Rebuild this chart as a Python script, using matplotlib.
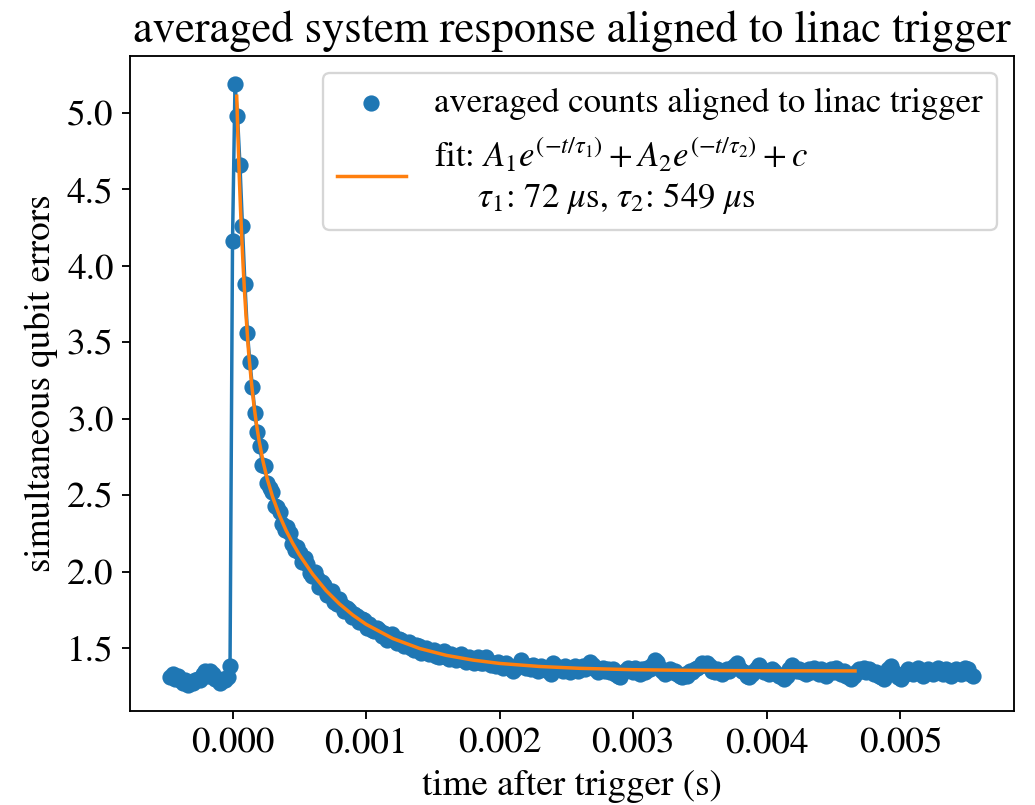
import numpy as np
import matplotlib
matplotlib.use('Agg')
import matplotlib.pyplot as plt

plt.rcParams['font.family'] = ['STIXGeneral', 'Liberation Serif', 'DejaVu Serif']
plt.rcParams['mathtext.fontset'] = 'stix'
plt.rcParams['font.size'] = 16

# sample grid of the averaged trace (s)
t_start = -4.65e-4
dt = 1.86e-5

counts = [
    1.31, 1.33, 1.30, 1.32, 1.29, 1.27, 1.29, 1.26, 1.28, 1.27,
    1.29, 1.30, 1.29, 1.33, 1.35, 1.32, 1.35, 1.33, 1.30, 1.29,
    1.27, 1.30, 1.29, 1.31, 1.38,
    4.16, 5.19, 4.98, 4.66, 4.26, 3.88, 3.56, 3.37, 3.21, 3.04,
    2.91, 2.82, 2.70, 2.69, 2.58, 2.55, 2.52, 2.43, 2.42, 2.39,
    2.31, 2.27, 2.29, 2.25, 2.18, 2.14, 2.16, 2.12, 2.06, 2.09,
    2.05, 1.99, 1.97, 2.00, 1.96, 1.90, 1.93, 1.91, 1.85, 1.86,
    1.87, 1.80, 1.79, 1.82, 1.78, 1.74, 1.76, 1.75, 1.70, 1.72,
    1.71, 1.67, 1.69, 1.68, 1.63, 1.66, 1.62, 1.61, 1.63, 1.62,
    1.58, 1.60, 1.55, 1.57, 1.59, 1.56, 1.53, 1.56, 1.55, 1.51,
    1.52, 1.54, 1.50, 1.49, 1.52, 1.51, 1.47, 1.49, 1.50, 1.46,
    1.48, 1.49, 1.45, 1.44, 1.47, 1.48, 1.44, 1.43, 1.46, 1.45,
    1.42, 1.44, 1.46, 1.42, 1.41, 1.44, 1.43, 1.40, 1.42, 1.44,
    1.40,
    1.40, 1.44, 1.41, 1.39, 1.40, 1.38, 1.41, 1.39, 1.37, 1.40,
    1.38, 1.36, 1.35, 1.37, 1.39, 1.42, 1.39, 1.37, 1.38, 1.36,
    1.39, 1.37, 1.35, 1.38, 1.36, 1.37, 1.35, 1.33, 1.40, 1.38,
    1.36, 1.37, 1.35, 1.38, 1.36, 1.34, 1.37, 1.38, 1.35, 1.36,
    1.38, 1.36, 1.39, 1.41, 1.39, 1.36, 1.34, 1.36, 1.37, 1.35,
    1.36, 1.34, 1.36, 1.33, 1.32, 1.31, 1.34, 1.35, 1.37, 1.36,
    1.34, 1.37, 1.35, 1.33, 1.36, 1.34, 1.37, 1.36, 1.39, 1.42,
    1.41, 1.37, 1.35, 1.33, 1.35, 1.36, 1.34, 1.35, 1.33, 1.32,
    1.31, 1.33, 1.32, 1.35, 1.34, 1.36, 1.37, 1.38, 1.40, 1.39,
    1.40, 1.38, 1.35, 1.34, 1.36, 1.35, 1.33, 1.34, 1.36, 1.35,
    1.37, 1.38, 1.40, 1.37, 1.35, 1.34, 1.32, 1.31, 1.33, 1.35,
    1.37, 1.39, 1.36, 1.34, 1.35, 1.33, 1.36, 1.35, 1.33, 1.32,
    1.31, 1.30, 1.32, 1.36, 1.39, 1.37, 1.35, 1.36, 1.34, 1.35,
    1.33, 1.36, 1.34, 1.37, 1.35, 1.33, 1.36, 1.34, 1.32, 1.35,
    1.36, 1.34, 1.37, 1.35, 1.33, 1.35, 1.32, 1.31, 1.30, 1.32,
    1.34, 1.36, 1.35, 1.37, 1.34, 1.36, 1.35, 1.33, 1.34, 1.32,
    1.31, 1.30, 1.34, 1.36, 1.38, 1.35, 1.33, 1.31, 1.30, 1.32,
    1.34, 1.36, 1.35, 1.33, 1.35, 1.37, 1.34, 1.32, 1.35, 1.36,
    1.34, 1.33, 1.35, 1.37, 1.35, 1.33, 1.36, 1.34, 1.32, 1.35,
    1.36, 1.34, 1.33, 1.35, 1.37, 1.36, 1.33, 1.32,
]

# double exponential fit
fit_t = [3.15e-5, 4e-5, 5e-5, 6e-5, 7e-5, 8e-5, 9e-5, 1.0e-4, 1.2e-4, 1.4e-4,
         1.6e-4, 1.8e-4, 2.0e-4, 2.3e-4, 2.6e-4, 3.0e-4, 3.5e-4, 4.0e-4, 4.5e-4,
         5.0e-4, 6.0e-4, 7.0e-4, 8.0e-4, 9.0e-4, 1.0e-3, 1.2e-3, 1.4e-3, 1.6e-3,
         1.8e-3, 2.0e-3, 2.3e-3, 2.6e-3, 3.0e-3, 3.5e-3, 4.0e-3, 4.66e-3]
fit_y = [5.11, 4.86, 4.60, 4.37, 4.17, 3.99, 3.83, 3.69, 3.44, 3.25,
         3.09, 2.96, 2.85, 2.715, 2.606, 2.489, 2.370, 2.271, 2.186,
         2.111, 1.983, 1.876, 1.789, 1.716, 1.655, 1.562, 1.497, 1.452,
         1.421, 1.399, 1.379, 1.367, 1.358, 1.353, 1.351, 1.350]

t = t_start + dt * np.arange(len(counts))

fig = plt.figure(figsize=(1035 / 167, 805 / 167), dpi=167)
ax = fig.add_axes([0.1254, 0.1168, 0.9797 - 0.1254, 0.9304 - 0.1168])

ax.plot(t, counts, color='C0')
ax.scatter(t, counts, color='C0', label='averaged counts aligned to linac trigger')
ax.plot(fit_t, fit_y, color='C1',
        label='fit: $A_1e^{(-t/\\tau_1)} + A_2e^{(-t/\\tau_2)} + c$\n'
              '     $\\tau_1$: 72 $\\mu$s, $\\tau_2$: 549 $\\mu$s')

ax.set_xlim(-7.69e-4, 5.85e-3)
ax.set_ylim(1.088, 5.373)
ax.set_xticks([0, 0.001, 0.002, 0.003, 0.004, 0.005])
ax.set_xticklabels(['0.000', '0.001', '0.002', '0.003', '0.004', '0.005'])
ax.set_yticks([1.5, 2.0, 2.5, 3.0, 3.5, 4.0, 4.5, 5.0])

ax.set_title('averaged system response aligned to linac trigger')
ax.set_xlabel('time after trigger (s)')
ax.set_ylabel('simultaneous qubit errors')
ax.legend(loc='upper right', fontsize=15)

fig.savefig('out.png', dpi=167)
